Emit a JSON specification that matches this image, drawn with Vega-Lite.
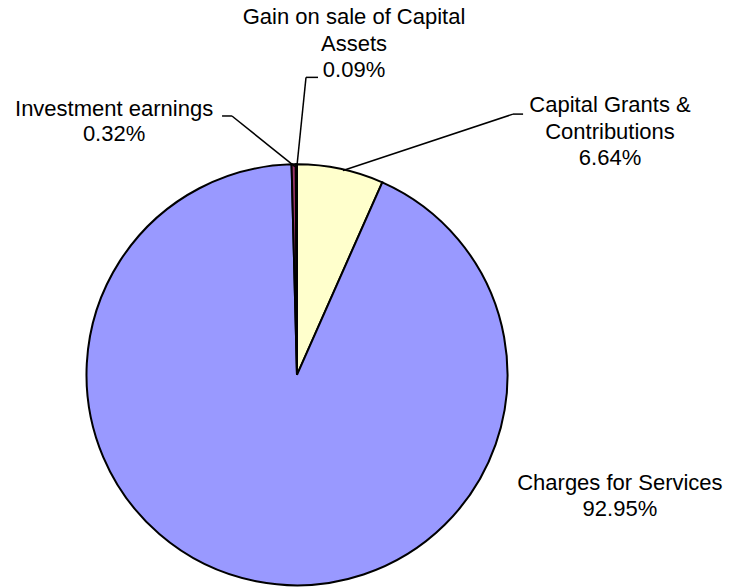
{
  "$schema": "https://vega.github.io/schema/vega-lite/v6.json",
  "width": 731,
  "height": 588,
  "autosize": {"type": "fit", "contains": "padding"},
  "padding": 0,
  "background": "white",
  "config": {"view": {"stroke": null}},
  "datasets": {
    "slices": [
      {"source": "Capital Grants & Contributions", "label": "Capital Grants &\nContributions", "share": 6.64},
      {"source": "Charges for Services", "label": "Charges for Services", "share": 92.95},
      {"source": "Investment earnings", "label": "Investment earnings", "share": 0.32},
      {"source": "Gain on sale of Capital Assets", "label": "Gain on sale of Capital\nAssets", "share": 0.09}
    ]
  },
  "encoding": {
    "x": {"type": "quantitative", "scale": {"domain": [-1.4109, 2.0618], "nice": false, "zero": false}, "axis": null},
    "y": {"type": "quantitative", "scale": {"domain": [-0.9976, 1.7957], "nice": false, "zero": false}, "axis": null}
  },
  "layer": [
    {
      "data": {"name": "slices"},
      "transform": [{"window": [{"op": "row_number", "as": "idx"}]}],
      "mark": {"type": "arc", "radius": 210.5, "stroke": "black", "strokeWidth": 2},
      "encoding": {
        "x": {"datum": 0, "type": "quantitative"},
        "y": {"datum": 0, "type": "quantitative"},
        "theta": {"field": "share", "type": "quantitative", "stack": true},
        "order": {"field": "idx", "type": "quantitative"},
        "color": {
          "field": "source",
          "type": "nominal",
          "scale": {
            "domain": ["Capital Grants & Contributions", "Charges for Services", "Investment earnings", "Gain on sale of Capital Assets"],
            "range": ["#FFFFCC", "#9999FF", "#993366", "#CCFFFF"]
          },
          "legend": null
        }
      }
    },
    {
      "data": {"values": [{}]},
      "mark": {"type": "rule", "color": "black", "strokeWidth": 1.5},
      "encoding": {"x": {"datum": -0.0095}, "y": {"datum": 0.9976}, "x2": {"datum": -0.309}, "y2": {"datum": 1.240}}
    },
    {
      "data": {"values": [{}]},
      "mark": {"type": "rule", "color": "black", "strokeWidth": 1.5},
      "encoding": {"x": {"datum": -0.309}, "y": {"datum": 1.240}, "x2": {"datum": -0.356}, "y2": {"datum": 1.240}}
    },
    {
      "data": {"values": [{}]},
      "mark": {"type": "rule", "color": "black", "strokeWidth": 1.5},
      "encoding": {"x": {"datum": 0.0}, "y": {"datum": 1.002}, "x2": {"datum": 0.0428}, "y2": {"datum": 1.425}}
    },
    {
      "data": {"values": [{}]},
      "mark": {"type": "rule", "color": "black", "strokeWidth": 1.5},
      "encoding": {"x": {"datum": 0.0428}, "y": {"datum": 1.425}, "x2": {"datum": 0.0998}, "y2": {"datum": 1.425}}
    },
    {
      "data": {"values": [{}]},
      "mark": {"type": "rule", "color": "black", "strokeWidth": 1.5},
      "encoding": {"x": {"datum": 0.2185}, "y": {"datum": 0.9786}, "x2": {"datum": 1.026}, "y2": {"datum": 1.249}}
    },
    {
      "data": {"values": [{}]},
      "mark": {"type": "rule", "color": "black", "strokeWidth": 1.5},
      "encoding": {"x": {"datum": 1.026}, "y": {"datum": 1.249}, "x2": {"datum": 1.074}, "y2": {"datum": 1.249}}
    },
    {
      "data": {"name": "slices"},
      "transform": [
        {"filter": "datum.source === 'Investment earnings'"},
        {"calculate": "datum.label + '\\n' + format(datum.share, '.2f') + '%'", "as": "txt"}
      ],
      "mark": {"type": "text", "font": "Liberation Sans", "fontSize": 22, "lineHeight": 25, "lineBreak": "\n", "align": "center", "baseline": "middle", "color": "black"},
      "encoding": {"x": {"datum": -0.869}, "y": {"datum": 1.273}, "text": {"field": "txt"}}
    },
    {
      "data": {"name": "slices"},
      "transform": [
        {"filter": "datum.source === 'Gain on sale of Capital Assets'"},
        {"calculate": "datum.label + '\\n' + format(datum.share, '.2f') + '%'", "as": "txt"}
      ],
      "mark": {"type": "text", "font": "Liberation Sans", "fontSize": 22, "lineHeight": 26.5, "lineBreak": "\n", "align": "center", "baseline": "middle", "color": "black"},
      "encoding": {"x": {"datum": 0.271}, "y": {"datum": 1.713}, "text": {"field": "txt"}}
    },
    {
      "data": {"name": "slices"},
      "transform": [
        {"filter": "datum.source === 'Capital Grants & Contributions'"},
        {"calculate": "datum.label + '\\n' + format(datum.share, '.2f') + '%'", "as": "txt"}
      ],
      "mark": {"type": "text", "font": "Liberation Sans", "fontSize": 22, "lineHeight": 26.5, "lineBreak": "\n", "align": "center", "baseline": "middle", "color": "black"},
      "encoding": {"x": {"datum": 1.487}, "y": {"datum": 1.292}, "text": {"field": "txt"}}
    },
    {
      "data": {"name": "slices"},
      "transform": [
        {"filter": "datum.source === 'Charges for Services'"},
        {"calculate": "datum.label + '\\n' + format(datum.share, '.2f') + '%'", "as": "txt"}
      ],
      "mark": {"type": "text", "font": "Liberation Sans", "fontSize": 22, "lineHeight": 26, "lineBreak": "\n", "align": "center", "baseline": "middle", "color": "black"},
      "encoding": {"x": {"datum": 1.534}, "y": {"datum": -0.518}, "text": {"field": "txt"}}
    }
  ]
}
